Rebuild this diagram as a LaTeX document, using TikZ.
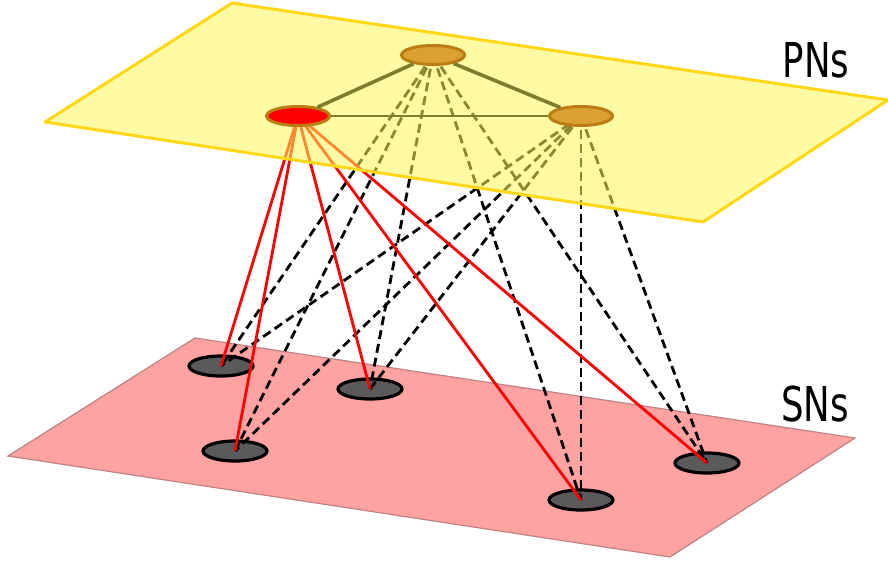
\documentclass[tikz,border=0pt]{standalone}
\usepackage{fontspec}
\setmainfont{DejaVu Sans}
\usetikzlibrary{shapes.geometric}
\pgfdeclarelayer{bgl}
\pgfdeclarelayer{snl}
\pgfdeclarelayer{linel}
\pgfdeclarelayer{yell}
\pgfsetlayers{bgl,snl,linel,yell,main}
\definecolor{yelfill}{RGB}{255,248,90}
\definecolor{yeledge}{RGB}{255,215,20}
\definecolor{pinkfill}{RGB}{255,162,162}
\definecolor{pinkedge}{RGB}{190,130,130}
\definecolor{pnorange}{RGB}{218,160,50}
\definecolor{pnedge}{RGB}{185,125,20}
\definecolor{pnred}{RGB}{255,0,0}
\definecolor{snfill}{RGB}{90,90,90}
\definecolor{olivelink}{RGB}{125,125,45}
\tikzset{
  pnnode/.style={ellipse, draw=pnedge, line width=3pt, fill=pnorange, minimum width=63pt, minimum height=19pt, inner sep=0pt},
  pnrednode/.style={pnnode, fill=pnred},
  snnode/.style={ellipse, draw=black, line width=3.2pt, fill=snfill, minimum width=64pt, minimum height=20pt, inner sep=0pt},
  redlink/.style={draw=red, line width=2.8pt},
  dashlink/.style={draw=black, line width=2.8pt, dash pattern=on 9pt off 5pt},
  pnlink/.style={draw=olivelink, line width=3.6pt},
  planelabel/.style={font=\fontsize{48}{50}\selectfont, inner sep=0pt}
}
\begin{document}
\begin{tikzpicture}[x=1pt,y=-1pt]
\useasboundingbox (0,0) rectangle (888,563);
% lower plane
\begin{pgfonlayer}{bgl}
\path[fill=pinkfill, draw=pinkedge, line width=1.2pt] (8,456) -- (195,338) -- (855,438) -- (670,557) -- cycle;
\end{pgfonlayer}
% SN nodes
\begin{pgfonlayer}{snl}
\node[snnode] (s1) at (221,366) {};
\node[snnode] (s2) at (370,389) {};
\node[snnode] (s3) at (235,451) {};
\node[snnode] (s4) at (581,500) {};
\node[snnode] (s5) at (707,463) {};
\end{pgfonlayer}
% PN nodes
\node[pnnode] (pt) at (433,55) {};
\node[pnrednode] (pr) at (298,116) {};
\node[pnnode] (pq) at (581,116) {};
\draw[pnlink] (pt) -- (pr);
\draw[pnlink] (pt) -- (pq);
\draw[pnlink, line width=2.6pt] (pr) -- (pq);
% connectors
\begin{pgfonlayer}{linel}
\foreach \s in {s1,s2,s3,s4,s5}{
  \draw[dashlink] (pt.center) -- (\s.center);
  \draw[dashlink] (pq.center) -- (\s.center);
}
\foreach \s in {s1,s2,s3,s4,s5}{
  \draw[redlink] (pr.center) -- (\s.center);
}
\end{pgfonlayer}
% upper plane
\begin{pgfonlayer}{yell}
\path[fill=yelfill, fill opacity=0.55] (45,122) -- (232,3) -- (888,100) -- (703,222) -- cycle;
\draw[yeledge, line width=3pt, line join=round] (45,122) -- (232,3) -- (888,100) -- (703,222) -- cycle;
\end{pgfonlayer}
% labels
\node[planelabel] (lp) at (816,60) {\scalebox{0.74}[1]{PNs}};
\node[planelabel] (ls) at (815,404) {\scalebox{0.74}[1]{SNs}};
\end{tikzpicture}
\end{document}
